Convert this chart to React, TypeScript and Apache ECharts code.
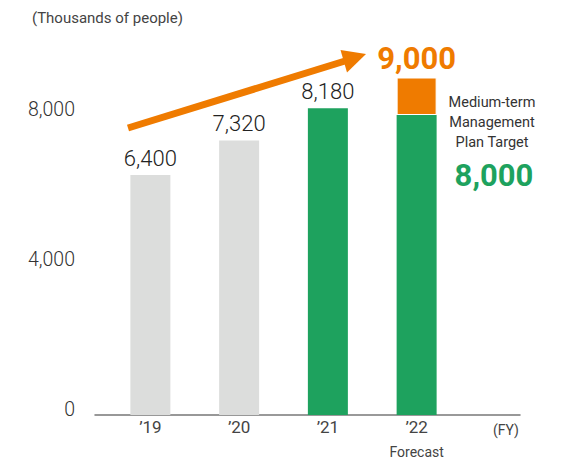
import React, { useEffect, useRef } from "react";
import * as echarts from "echarts";

const categories = ["’19", "’20", "’21", "’22"];
const results = [6400, 7320, 8180, null];
const planTarget = [null, null, null, 8000];
const forecast = [null, null, null, 9000];
const yTicks = [0, 4000, 8000];
const barColors = ["#dcdddc", "#dcdddc", "#1ea25e", "#1ea25e"];

const GREEN = "#1ea25e";
const ORANGE = "#ef7b00";
const FONT = "Roboto, 'Noto Sans', sans-serif";
const fmt = (v: number) => v.toLocaleString("en-US");

export default function App() {
  const ref = useRef<HTMLDivElement>(null);
  useEffect(() => {
    if (!ref.current) return;
    const chart = echarts.init(ref.current, null, { renderer: "svg" });
    const excess = forecast.map((f, i) =>
      f != null && planTarget[i] != null ? f - (planTarget[i] as number) : null
    );
    const targetVal = planTarget.find((v) => v != null) as number;
    chart.setOption({
      animation: false,
      textStyle: { fontFamily: FONT },
      title: {
        text: "(Thousands of people)",
        left: 27,
        top: 5,
        textStyle: { fontSize: 15, fontWeight: "normal", color: "#444", fontFamily: FONT },
      },
      grid: [
        { left: 106, right: 103, top: 40, bottom: 44, containLabel: false, outerBoundsMode: "none" },
        { left: 95, right: 44, top: 40, bottom: 44, containLabel: false, outerBoundsMode: "none" },
      ],
      xAxis: [
        {
          type: "category",
          gridIndex: 0,
          data: categories,
          axisLine: { show: false },
          axisTick: { show: false },
          axisLabel: {
            interval: 0,
            fontSize: 17,
            color: "#444",
            margin: 4,
            verticalAlign: "top",
            lineHeight: 16,
            formatter: (v: string, i: number) =>
              forecast[i] != null ? v + "\n{f|Forecast}" : v,
            rich: { f: { fontSize: 14, color: "#444", lineHeight: 33, fontFamily: FONT } },
          },
        },
        {
          type: "value",
          gridIndex: 1,
          min: 0,
          max: 1,
          axisLine: { show: true, lineStyle: { color: "#777", width: 1.5 } },
          axisTick: { show: false },
          axisLabel: { show: false },
          splitLine: { show: false },
        },
      ],
      yAxis: [
        {
          type: "value",
          gridIndex: 0,
          min: 0,
          max: 10000,
          interval: 4000,
          show: false,
          splitLine: { show: false },
        },
        {
          type: "value",
          gridIndex: 1,
          min: 0,
          max: 10000,
          interval: 4000,
          axisLine: { show: false },
          axisTick: { show: false },
          splitLine: { show: false },
          axisLabel: {
            fontSize: 19.5,
            fontWeight: 300,
            color: "#333",
            margin: 20,
            verticalAlign: "bottom",
            lineHeight: 12,
            formatter: (v: number) => (yTicks.includes(v) ? fmt(v) : ""),
          },
        },
      ],
      series: [
        {
          type: "bar",
          stack: "total",
          barWidth: 40,
          data: results.map((v, i) => ({ value: v, itemStyle: { color: barColors[i] } })),
          label: {
            show: true,
            position: "top",
            distance: 6,
            fontSize: 22,
            fontWeight: 300,
            color: "#222",
            formatter: (p: any) => fmt(p.value),
          },
        },
        {
          type: "bar",
          stack: "total",
          barWidth: 40,
          itemStyle: { color: GREEN },
          data: planTarget,
        },
        {
          type: "bar",
          stack: "total",
          barWidth: 40,
          itemStyle: { color: ORANGE, borderColor: "#fff", borderWidth: 1 },
          data: excess,
          label: {
            show: true,
            position: "top",
            distance: 4,
            fontSize: 31,
            fontWeight: "bold",
            color: ORANGE,
            formatter: (p: any) => fmt(forecast[p.dataIndex] as number),
          },
        },
      ],
      graphic: [
        {
          type: "polyline",
          shape: { points: [[128, 128], [345, 61]] },
          style: { stroke: ORANGE, lineWidth: 7, fill: null },
        },
        {
          type: "polygon",
          shape: { points: [[366, 54], [347, 72.5], [340.5, 50]] },
          style: { fill: ORANGE },
        },
        {
          type: "text",
          x: 492,
          y: 92,
          style: {
            text: "Medium-term\nManagement\nPlan Target",
            fontSize: 14.5,
            lineHeight: 20,
            fill: "#333",
            align: "center",
            fontFamily: FONT,
          },
        },
        {
          type: "text",
          x: 494,
          y: 175,
          style: {
            text: fmt(targetVal),
            fontSize: 31,
            fontWeight: "bold",
            fill: GREEN,
            align: "center",
            verticalAlign: "middle",
            fontFamily: FONT,
          },
        },
        {
          type: "text",
          x: 506,
          y: 430,
          style: {
            text: "(FY)",
            fontSize: 14,
            fill: "#444",
            align: "center",
            verticalAlign: "middle",
            fontFamily: FONT,
          },
        },
      ],
    });
    return () => chart.dispose();
  }, []);
  return (
    <div
      ref={ref}
      style={{ position: "absolute", left: 0, top: 0, width: 564, height: 459 }}
    />
  );
}
